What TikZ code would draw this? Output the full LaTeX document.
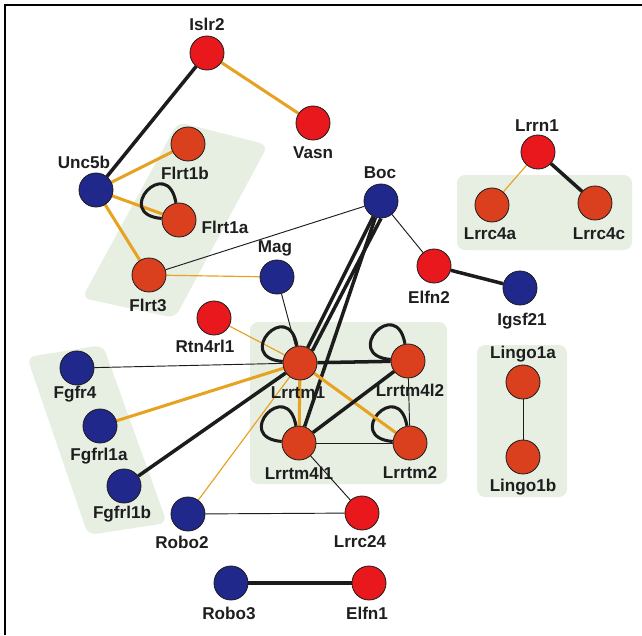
\documentclass[tikz,border=0pt]{standalone}
\usepackage{fontspec}
\setmainfont{Liberation Sans}
\usetikzlibrary{backgrounds}
\pgfdeclarelayer{bg}
\pgfdeclarelayer{edges}
\pgfsetlayers{bg,edges,main}
\definecolor{nred}{RGB}{232,24,28}
\definecolor{norange}{RGB}{218,64,30}
\definecolor{nblue}{RGB}{32,40,140}
\definecolor{gbg}{RGB}{230,239,226}
\definecolor{eorange}{RGB}{232,162,34}
\definecolor{eblack}{RGB}{28,28,28}
\definecolor{txt}{RGB}{30,30,30}
\tikzset{
  gene/.style={circle, draw=eblack, line width=0.7pt, minimum size=1.02cm, inner sep=0pt},
  redn/.style={gene, fill=nred},
  orn/.style={gene, fill=norange},
  blun/.style={gene, fill=nblue},
  lab/.style={text=txt, font=\bfseries\fontsize{14.6}{15}\selectfont, inner sep=0pt},
  thk/.style={draw=eblack, line width=3pt},
  thn/.style={draw=eblack, line width=0.8pt},
  othk/.style={draw=eorange, line width=2.6pt},
  othn/.style={draw=eorange, line width=1pt},
  selfloop/.style={draw=eblack, line width=2.6pt, out=100, in=175, looseness=6, min distance=1.0cm},
  region/.style={fill=gbg, draw=none, rounded corners=7pt}
}
\begin{document}
\begin{tikzpicture}[x=0.03cm, y=-0.03cm]
\useasboundingbox (0,0) rectangle (642,635);
\draw[line width=1.4pt, black] (5,635) -- (5,5) -- (642,5);

% nodes
\node[redn] (Islr2) at (207,53) {};
\node[redn] (Vasn) at (313,123) {};
\node[blun] (Unc5b) at (96,190) {};
\node[orn] (Flrt1b) at (188,144) {};
\node[orn] (Flrt1a) at (179,220) {};
\node[orn] (Flrt3) at (149,275) {};
\node[blun] (Mag) at (277,277) {};
\node[blun] (Boc) at (381,201) {};
\node[redn] (Elfn2) at (434,266) {};
\node[blun] (Igsf21) at (520,288) {};
\node[redn] (Lrrn1) at (538,152) {};
\node[orn] (Lrrc4a) at (492,205) {};
\node[orn] (Lrrc4c) at (595,203) {};
\node[orn] (Lingo1a) at (523,382) {};
\node[orn] (Lingo1b) at (523,457) {};
\node[redn] (Rtn4rl1) at (214,318) {};
\node[orn] (Lrrtm1) at (300,363) {};
\node[orn] (Lrrtm4l2) at (408,361) {};
\node[orn] (Lrrtm4l1) at (299,443) {};
\node[orn] (Lrrtm2) at (410,443) {};
\node[blun] (Fgfr4) at (77,368) {};
\node[blun] (Fgfrl1a) at (100,426) {};
\node[blun] (Fgfrl1b) at (124,486) {};
\node[blun] (Robo2) at (188,514) {};
\node[redn] (Lrrc24) at (362,513) {};
\node[blun] (Robo3) at (231,583) {};
\node[redn] (Elfn1) at (369,583) {};

% labels
\node[lab] (Islr2-l) at (207,24) {Islr2};
\node[lab] (Vasn-l) at (313,153) {Vasn};
\node[lab] (Unc5b-l) at (84,162) {Unc5b};
\node[lab] (Flrt1b-l) at (185,173) {Flrt1b};
\node[lab] (Flrt1a-l) at (225,227) {Flrt1a};
\node[lab] (Flrt3-l) at (148,305) {Flrt3};
\node[lab] (Mag-l) at (275,248) {Mag};
\node[lab] (Boc-l) at (380,173) {Boc};
\node[lab] (Elfn2-l) at (429,297) {Elfn2};
\node[lab] (Igsf21-l) at (522,321) {Igsf21};
\node[lab] (Lrrn1-l) at (537,126) {Lrrn1};
\node[lab] (Lrrc4a-l) at (490,234) {Lrrc4a};
\node[lab] (Lrrc4c-l) at (599,234) {Lrrc4c};
\node[lab] (Lingo1a-l) at (523,354) {Lingo1a};
\node[lab] (Lingo1b-l) at (523,487) {Lingo1b};
\node[lab] (Rtn4rl1-l) at (205,346) {Rtn4rl1};
\node[lab] (Lrrtm1-l) at (298,393) {Lrrtm1};
\node[lab] (Lrrtm4l2-l) at (410,390) {Lrrtm4l2};
\node[lab] (Lrrtm4l1-l) at (299,473) {Lrrtm4l1};
\node[lab] (Lrrtm2-l) at (410,473) {Lrrtm2};
\node[lab] (Fgfr4-l) at (75,394) {Fgfr4};
\node[lab] (Fgfrl1a-l) at (99,456) {Fgfrl1a};
\node[lab] (Fgfrl1b-l) at (122,514) {Fgfrl1b};
\node[lab] (Robo2-l) at (182,542) {Robo2};
\node[lab] (Lrrc24-l) at (360,542) {Lrrc24};
\node[lab] (Robo3-l) at (229,613) {Robo3};
\node[lab] (Elfn1-l) at (367,613) {Elfn1};

% green regions
\begin{pgfonlayer}{bg}
\fill[region] (178,122) -- (268,145) -- (175,318) -- (82,298) -- cycle;
\fill[region] (27,357) -- (103,345) -- (167,523) -- (88,535) -- cycle;
\fill[region] (250,322) rectangle (447,484);
\fill[region] (457,175) rectangle (632,250);
\fill[region] (477,345) rectangle (567,497);
\end{pgfonlayer}

% edges
\begin{pgfonlayer}{edges}
\draw[thk] (Islr2) -- (Unc5b);
\draw[othk] (Islr2) -- (Vasn);
\draw[othk] (Unc5b) -- (Flrt1b);
\draw[othk] (Unc5b) -- (Flrt1a);
\draw[othk] (Unc5b) -- (Flrt3);
\draw[selfloop] (Flrt1a) to (Flrt1a);
\draw[thn] (Flrt3) -- (Boc);
\draw[othn] (Flrt3) -- (Mag);
\draw[thn] (Mag) -- (Lrrtm1);
\draw[thk] (Boc) -- (Lrrtm1);
\draw[thk] (Boc.south) -- (Lrrtm1.north east);
\draw[thk] (Boc) -- (Lrrtm4l1);
\draw[thn] (Boc) -- (Elfn2);
\draw[thk] (Elfn2) -- (Igsf21);
\draw[othn] (Lrrn1) -- (Lrrc4a);
\draw[thk] (Lrrn1) -- (Lrrc4c);
\draw[thn] (Lingo1a) -- (Lingo1b);
\draw[othn] (Rtn4rl1) -- (Lrrtm1);
\draw[thn] (Fgfr4) -- (Lrrtm1);
\draw[othk] (Fgfrl1a) -- (Lrrtm1);
\draw[thk] (Fgfrl1b) -- (Lrrtm1);
\draw[othn] (Robo2) -- (Lrrtm1);
\draw[thn] (Robo2) -- (Lrrc24);
\draw[thn] (Lrrtm4l1) -- (Lrrc24);
\draw[thk] (Robo3) -- (Elfn1);
\draw[selfloop] (Lrrtm1) to (Lrrtm1);
\draw[selfloop] (Lrrtm4l2) to (Lrrtm4l2);
\draw[selfloop] (Lrrtm4l1) to (Lrrtm4l1);
\draw[selfloop] (Lrrtm2) to (Lrrtm2);
\draw[thk] (Lrrtm1) -- (Lrrtm4l2);
\draw[othk] (Lrrtm1) -- (Lrrtm4l1);
\draw[othk] (Lrrtm1) -- (Lrrtm2);
\draw[thk] (Lrrtm4l1) -- (Lrrtm4l2);
\draw[thn] (Lrrtm4l1) -- (Lrrtm2);
\draw[thn] (Lrrtm4l2) -- (Lrrtm2);
\end{pgfonlayer}
\end{tikzpicture}
\end{document}
